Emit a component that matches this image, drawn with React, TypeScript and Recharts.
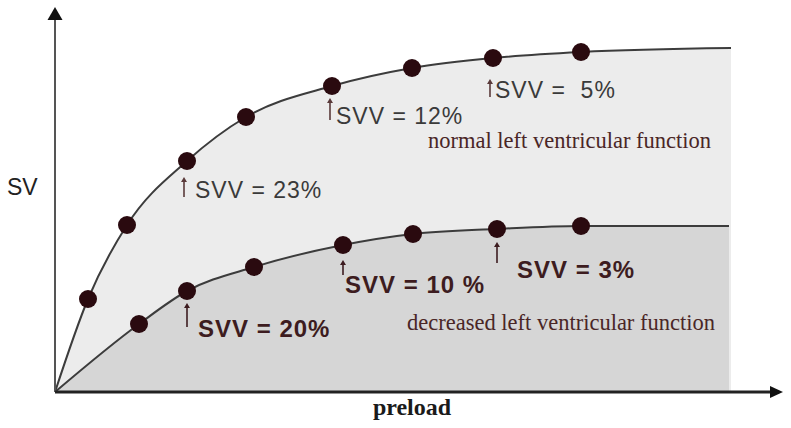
import { ComposedChart, Area, Scatter, XAxis, YAxis, ReferenceLine, ReferenceDot } from "recharts"

// Frank-Starling curves, arbitrary units
const X_MAX = 728
const Y_MAX = 385

const normalDotsPreload = [33, 72, 132, 191, 277, 357, 438, 526]
const normalDotsSV = [93, 167, 231, 275, 306, 324, 334, 340]
const normalEnd = { preload: 676, sv: 344 }

const decreasedDotsPreload = [84, 132, 199, 288, 358, 442, 526]
const decreasedDotsSV = [68, 101, 125, 147, 158, 163, 166]
const decreasedEnd = { preload: 674, sv: 166 }

// SVV annotations: text, anchor (preload, sv) of the text start
const svvTexts = ["SVV = 23%", "SVV = 12%", "SVV =  5%", "SVV = 20%", "SVV = 10 %", "SVV = 3%"]
const svvPreload = [140, 281, 440, 143, 290, 462]
const svvSV = [194, 268, 294, 55, 99, 114]
const svvGroup = ["normal", "normal", "normal", "decreased", "decreased", "decreased"]
// little arrow next to each label: [dx, top, bottom] in px from the text start / baseline
const svvArrows = [
  [-11, -21, -1],
  [-6, -26, -4],
  [-5, -19, -1],
  [-11, -34, -10],
  [-2, -33, -18],
  [-20, -36, -15],
]

const curveNames = ["normal left ventricular function", "decreased left ventricular function"]
const curveNamePreload = [373, 352]
const curveNameSV = [244, 62]

const toCurve = (xs: number[], ys: number[], end: { preload: number; sv: number }) => [
  { preload: 0, sv: 0 },
  ...xs.map((x, i) => ({ preload: x, sv: ys[i] })),
  end,
]
const toDots = (xs: number[], ys: number[]) => xs.map((x, i) => ({ preload: x, sv: ys[i] }))

const normalCurve = toCurve(normalDotsPreload, normalDotsSV, normalEnd)
const decreasedCurve = toCurve(decreasedDotsPreload, decreasedDotsSV, decreasedEnd)
const normalDots = toDots(normalDotsPreload, normalDotsSV)
const decreasedDots = toDots(decreasedDotsPreload, decreasedDotsSV)

const svvData = svvTexts.map((text, i) => ({
  preload: svvPreload[i],
  sv: svvSV[i],
  text,
  group: svvGroup[i],
  arrow: svvArrows[i],
}))
const nameData = curveNames.map((text, i) => ({ preload: curveNamePreload[i], sv: curveNameSV[i], text }))

const SANS = "'Liberation Sans', Arial, sans-serif"
const SERIF = "'Liberation Serif', 'Times New Roman', serif"
const MAROON = "#3d1c20"

const DotShape = (props: any) => <circle cx={props.cx} cy={props.cy} r={9} fill="#2a0a0f" />

const SvvShape = (props: any) => {
  const { cx, cy, payload } = props
  const bold = payload.group === "decreased"
  const color = bold ? MAROON : "#3a3a3a"
  const [dx, top, bottom] = payload.arrow
  const ax = cx + dx
  return (
    <g>
      <line x1={ax} y1={cy + top + 4} x2={ax} y2={cy + bottom} stroke={bold ? MAROON : "#5a3a3a"} strokeWidth={1.6} />
      <polygon points={`${ax - 3},${cy + top + 5} ${ax + 3},${cy + top + 5} ${ax},${cy + top}`} fill={bold ? MAROON : "#5a3a3a"} />
      <text
        x={cx}
        y={cy}
        fontFamily={SANS}
        fontSize={bold ? 24 : 23}
        fontWeight={bold ? 700 : 400}
        letterSpacing={1}
        fill={color}
        style={{ whiteSpace: "pre" }}
      >
        {payload.text}
      </text>
    </g>
  )
}

const NameShape = (props: any) => (
  <text x={props.cx} y={props.cy} fontFamily={SERIF} fontSize={22.5} fill="#4a2626">
    {props.payload.text}
  </text>
)

const ArrowUp = (props: any) => (
  <polygon points={`${props.cx - 7.5},${props.cy + 13} ${props.cx + 7.5},${props.cy + 13} ${props.cx},${props.cy}`} fill="#111" />
)
const ArrowRight = (props: any) => (
  <polygon points={`${props.cx - 13},${props.cy - 6} ${props.cx - 13},${props.cy + 6} ${props.cx},${props.cy}`} fill="#111" />
)

export default function App() {
  return (
    <div style={{ position: "absolute", left: 0, top: 0, background: "#fff" }}>
      <ComposedChart width={791} height={428} margin={{ top: 7, right: 8, bottom: 36, left: 55 }}>
        <XAxis type="number" dataKey="preload" domain={[0, X_MAX]} hide />
        <YAxis type="number" dataKey="sv" domain={[0, Y_MAX]} hide />
        <Area
          data={normalCurve}
          dataKey="sv"
          type="monotone"
          stroke="#3c3c3c"
          strokeWidth={2}
          fill="#ececec"
          fillOpacity={1}
          dot={false}
          activeDot={false}
          isAnimationActive={false}
        />
        <Area
          data={decreasedCurve}
          dataKey="sv"
          type="monotone"
          stroke="#3c3c3c"
          strokeWidth={2}
          fill="#d6d6d6"
          fillOpacity={1}
          dot={false}
          activeDot={false}
          isAnimationActive={false}
        />
        <ReferenceLine
          segment={[{ x: 0, y: 0 }, { x: 0, y: Y_MAX - 10 }]}
          stroke="#555"
          strokeWidth={2}
          ifOverflow="visible"
          label={(p: any) => (
            <text x={p.viewBox.x - 48} y={195} fontFamily={SANS} fontSize={23} fill="#222">
              SV
            </text>
          )}
        />
        <ReferenceLine
          segment={[{ x: 0, y: 0 }, { x: X_MAX - 10, y: 0 }]}
          stroke="#222"
          strokeWidth={3}
          ifOverflow="visible"
          label={() => (
            <text x={412} y={415} textAnchor="middle" fontFamily={SERIF} fontSize={24} fontWeight={700} fill="#1a1a1a">
              preload
            </text>
          )}
        />
        <ReferenceDot x={0} y={Y_MAX} ifOverflow="visible" shape={ArrowUp} />
        <ReferenceDot x={X_MAX} y={0} ifOverflow="visible" shape={ArrowRight} />
        <Scatter data={normalDots} dataKey="sv" shape={DotShape} isAnimationActive={false} />
        <Scatter data={decreasedDots} dataKey="sv" shape={DotShape} isAnimationActive={false} />
        <Scatter data={svvData} dataKey="sv" shape={SvvShape} isAnimationActive={false} />
        <Scatter data={nameData} dataKey="sv" shape={NameShape} isAnimationActive={false} />
      </ComposedChart>
    </div>
  )
}
